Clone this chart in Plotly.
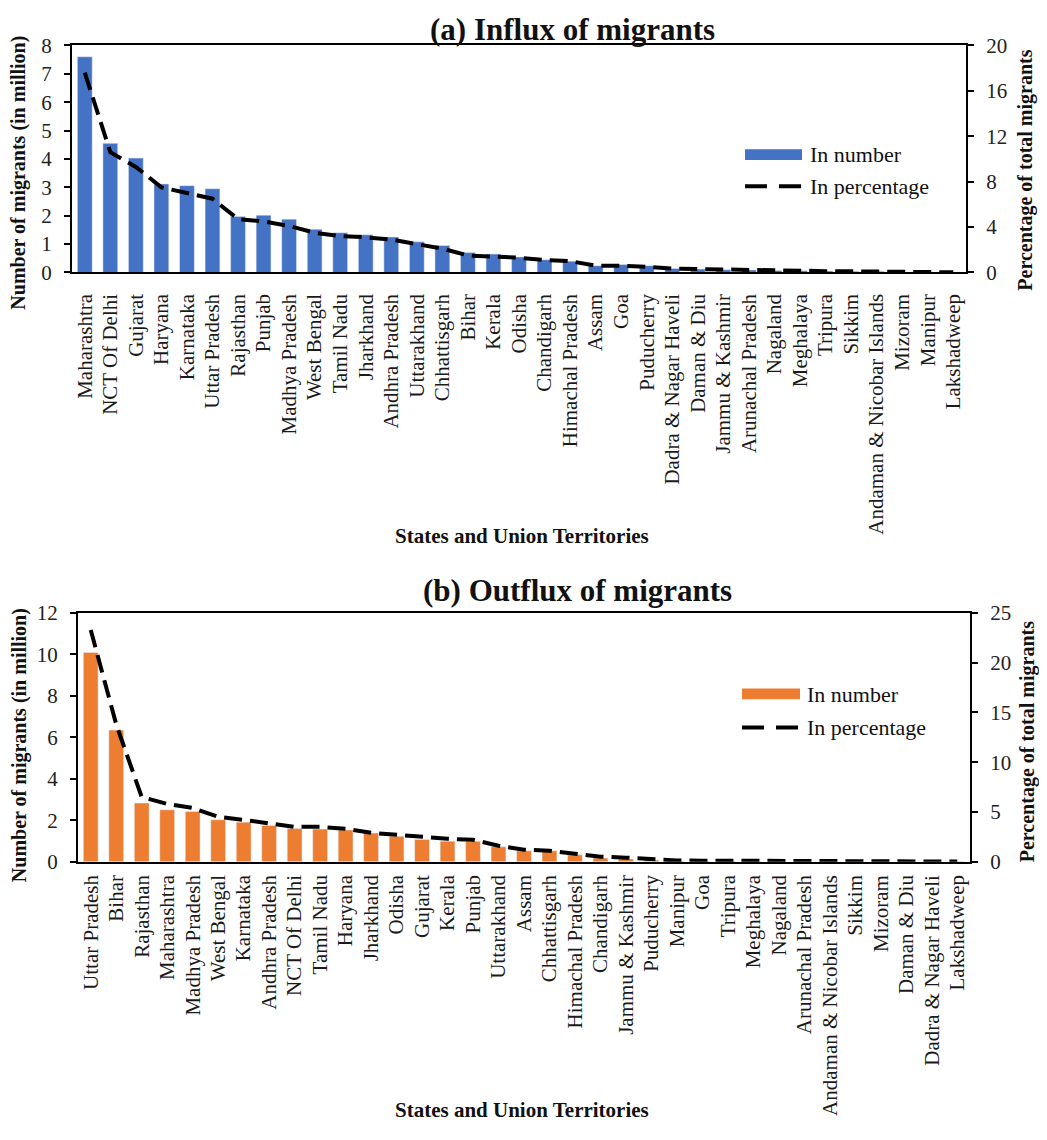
import plotly.graph_objects as go

# ---------------- data ----------------
in_states = ["Maharashtra", "NCT Of Delhi", "Gujarat", "Haryana", "Karnataka", "Uttar Pradesh",
             "Rajasthan", "Punjab", "Madhya Pradesh", "West Bengal", "Tamil Nadu", "Jharkhand",
             "Andhra Pradesh", "Uttarakhand", "Chhattisgarh", "Bihar", "Kerala", "Odisha",
             "Chandigarh", "Himachal Pradesh", "Assam", "Goa", "Puducherry", "Dadra & Nagar Haveli",
             "Daman & Diu", "Jammu & Kashmir", "Arunachal Pradesh", "Nagaland", "Meghalaya",
             "Tripura", "Sikkim", "Andaman & Nicobar Islands", "Mizoram", "Manipur", "Lakshadweep"]
in_number = [7.6, 4.55, 4.03, 3.12, 3.06, 2.95, 1.97, 2.02, 1.88, 1.52, 1.40, 1.33,
             1.25, 1.08, 0.95, 0.70, 0.65, 0.55, 0.45, 0.40, 0.24, 0.28, 0.24, 0.14,
             0.12, 0.10, 0.09, 0.07, 0.06, 0.05, 0.04, 0.04, 0.02, 0.02, 0.01]
in_pct = [17.6, 10.6, 9.3, 7.5, 7.0, 6.5, 4.7, 4.5, 4.1, 3.5, 3.2, 3.1,
          2.9, 2.5, 2.1, 1.5, 1.4, 1.3, 1.1, 1.0, 0.6, 0.6, 0.5, 0.35,
          0.3, 0.25, 0.2, 0.17, 0.14, 0.12, 0.1, 0.08, 0.05, 0.04, 0.02]

out_states = ["Uttar Pradesh", "Bihar", "Rajasthan", "Maharashtra", "Madhya Pradesh", "West Bengal",
              "Karnataka", "Andhra Pradesh", "NCT Of Delhi", "Tamil Nadu", "Haryana", "Jharkhand",
              "Odisha", "Gujarat", "Kerala", "Punjab", "Uttarakhand", "Assam", "Chhattisgarh",
              "Himachal Pradesh", "Chandigarh", "Jammu & Kashmir", "Puducherry", "Manipur", "Goa",
              "Tripura", "Meghalaya", "Nagaland", "Arunachal Pradesh", "Andaman & Nicobar Islands",
              "Sikkim", "Mizoram", "Daman & Diu", "Dadra & Nagar Haveli", "Lakshadweep"]
out_number = [10.1, 6.35, 2.83, 2.5, 2.42, 2.02, 1.9, 1.75, 1.6, 1.57, 1.53, 1.38,
              1.22, 1.07, 0.99, 0.98, 0.72, 0.52, 0.52, 0.33, 0.17, 0.13, 0.08, 0.03,
              0.03, 0.03, 0.02, 0.02, 0.02, 0.01, 0.01, 0.01, 0.005, 0.005, 0.002]
out_pct = [23.3, 13.8, 6.5, 5.8, 5.4, 4.5, 4.2, 3.8, 3.5, 3.5, 3.3, 2.9,
           2.7, 2.4, 2.3, 2.2, 1.6, 1.2, 1.1, 0.8, 0.5, 0.4, 0.25, 0.12,
           0.1, 0.1, 0.08, 0.06, 0.05, 0.04, 0.03, 0.03, 0.02, 0.02, 0.01]

BLUE = "#4472C4"
ORANGE = "#ED7D31"
SERIF = "Liberation Serif, Times New Roman, serif"
OFF = 8                      # page body margin
W, H = 1047 - 2 * OFF, 1140 - 2 * OFF


def px(x):
    return (x - OFF) / W


def py(y):
    return 1 - (y - OFF) / H


fig = go.Figure()
fig.add_trace(go.Bar(x=in_states, y=in_number, marker_color=BLUE, xaxis="x", yaxis="y",
                     showlegend=False, name="In number"))
fig.add_trace(go.Scatter(x=in_states, y=in_pct, mode="lines", xaxis="x", yaxis="y2",
                         line=dict(color="black", width=4, dash="18px,8px"),
                         showlegend=False, name="In percentage"))
fig.add_trace(go.Bar(x=out_states, y=out_number, marker_color=ORANGE, xaxis="x2", yaxis="y3",
                     showlegend=False, name="In number"))
fig.add_trace(go.Scatter(x=out_states, y=out_pct, mode="lines", xaxis="x2", yaxis="y4",
                         line=dict(color="black", width=4, dash="18px,8px"),
                         showlegend=False, name="In percentage"))

xtickfont = dict(family=SERIF, size=21, color="#1a1a1a")
ytickfont = dict(family=SERIF, size=21, color="#222")
xcommon = dict(showline=True, linecolor="black", linewidth=2, mirror=True, ticks="",
               tickmode="linear", tick0=0, dtick=1,
               tickangle=-90, tickfont=xtickfont, showgrid=False, zeroline=False)
ycommon = dict(showline=True, linecolor="black", linewidth=2, ticks="outside", ticklen=6,
               tickwidth=1.5, tickcolor="black", tickfont=ytickfont, showgrid=False,
               zeroline=False, ticklabelstandoff=8)

top_dom = [py(266), py(34)]
bot_dom = [py(868), py(614)]

fig.update_layout(
    width=W, height=H, margin=dict(l=0, r=0, t=0, b=0),
    paper_bgcolor="white", plot_bgcolor="white", bargap=0.42,
    font=dict(family=SERIF, color="#222"),
    xaxis=dict(domain=[px(72), px(966)], anchor="y", ticklabelstandoff=11, **xcommon),
    yaxis=dict(domain=top_dom, anchor="x", range=[0, 8], dtick=1, **ycommon),
    yaxis2=dict(overlaying="y", side="right", anchor="x", range=[0, 20], dtick=4, **ycommon),
    xaxis2=dict(domain=[px(78), px(970)], anchor="y3", ticklabelstandoff=3, **xcommon),
    yaxis3=dict(domain=bot_dom, anchor="x2", range=[0, 12], dtick=2, **ycommon),
    yaxis4=dict(overlaying="y3", side="right", anchor="x2", range=[0, 25], dtick=5, **ycommon),
)

ann = []


def text(x, y, s, size, bold=False, angle=0, xanchor="center"):
    ann.append(dict(x=px(x), y=py(y), xref="paper", yref="paper", showarrow=False,
                    text=f"<b>{s}</b>" if bold else s, textangle=angle, xanchor=xanchor,
                    yanchor="middle", font=dict(family=SERIF, size=size, color="#111")))


text(572, 18, "(a) Influx of migrants", 31, bold=True)
text(577, 591, "(b) Outflux of migrants", 31, bold=True)
text(19, 164, "Number of migrants (in million)", 20, bold=True, angle=-90)
text(1026, 162, "Percentage of total migrants", 20, bold=True, angle=-90)
text(19, 749, "Number of migrants (in million)", 20, bold=True, angle=-90)
text(1027, 746, "Percentage of total migrants", 20, bold=True, angle=-90)
text(522, 535, "States and Union Territories", 21, bold=True)
text(522, 1122, "States and Union Territories", 21, bold=True)
# legends
text(808, 145, "In number", 22, xanchor="left")
text(808, 178, "In percentage", 22, xanchor="left")
text(805, 697, "In number", 22, xanchor="left")
text(805, 731, "In percentage", 22, xanchor="left")
fig.update_layout(annotations=ann)

shapes = [
    dict(type="rect", xref="paper", yref="paper", x0=px(745), x1=px(802), y0=py(151), y1=py(140),
         fillcolor=BLUE, line=dict(width=0)),
    dict(type="line", xref="paper", yref="paper", x0=px(745), x1=px(802), y0=py(178), y1=py(178),
         line=dict(color="black", width=4, dash="22px,12px")),
    dict(type="rect", xref="paper", yref="paper", x0=px(742), x1=px(800), y0=py(702), y1=py(691),
         fillcolor=ORANGE, line=dict(width=0)),
    dict(type="line", xref="paper", yref="paper", x0=px(742), x1=px(800), y0=py(731), y1=py(731),
         line=dict(color="black", width=4, dash="22px,12px")),
]
fig.update_layout(shapes=shapes)

fig.write_html("out.html")
